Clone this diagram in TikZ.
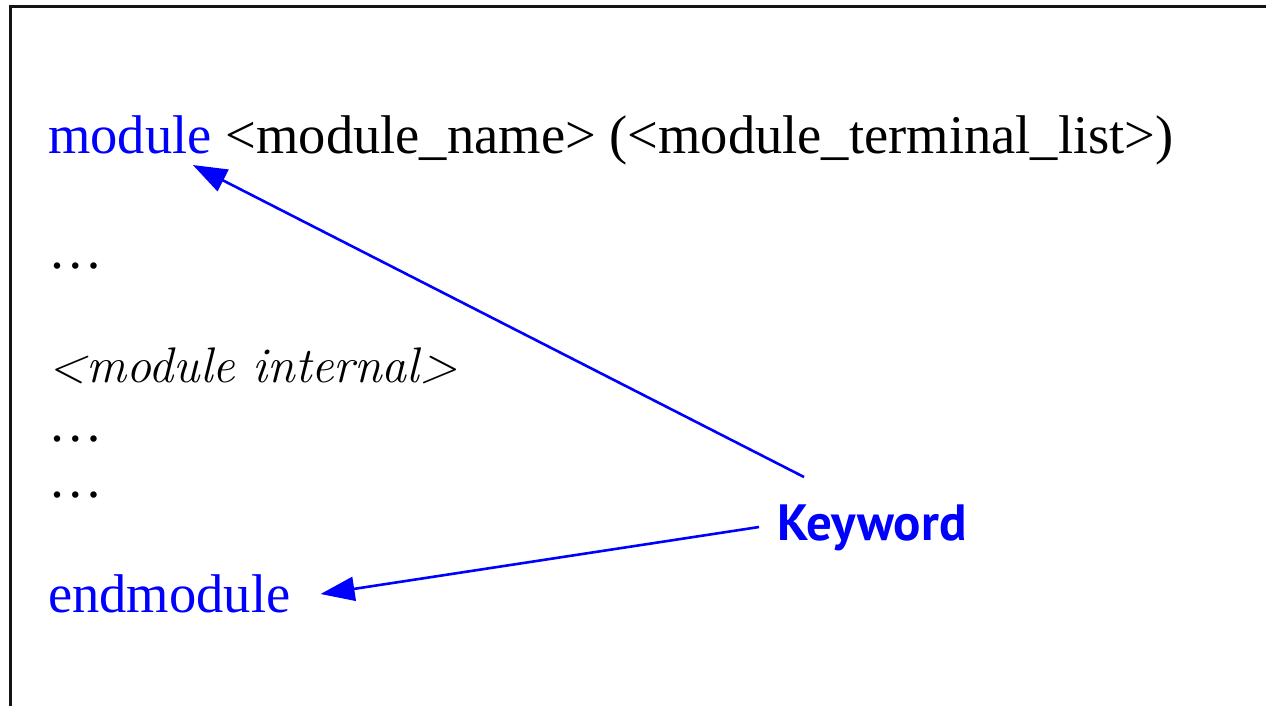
\documentclass[tikz,border=0pt]{standalone}
\usepackage{fontspec}
\setmainfont{Liberation Serif}
\newfontfamily\kwfont{PT Sans}
\usetikzlibrary{arrows.meta}
\definecolor{kwblue}{RGB}{0,0,255}
\definecolor{framegray}{RGB}{20,20,20}
\begin{document}
\begin{tikzpicture}[x=1pt,y=-1pt,
  txt/.style={anchor=base west,inner sep=0pt,font=\fontsize{54.5}{60}\selectfont},
  kwtxt/.style={txt,text=kwblue},
  ittxt/.style={anchor=base west,inner sep=0pt,font=\fontfamily{lmr}\fontsize{50}{56}\selectfont\itshape},
  labeltxt/.style={anchor=base west,inner sep=0pt,text=kwblue,font=\kwfont\bfseries\fontsize{51}{56}\selectfont},
  arr/.style={draw=kwblue,line width=2.6pt,-{Triangle[length=34pt,width=24pt]}},
  frame/.style={draw=framegray,line width=3pt}]
\useasboundingbox (0,0) rectangle (1266,705);
\fill[white] (0,0) rectangle (1266,705);
\clip (0,0) rectangle (1266,705);
\draw[frame] (10,740) -- (10,6) -- (1300,6);
% code lines
\node[kwtxt] (mod) at (48,153) {module};
\node[txt] (hdr) at (mod.base east) {\ <module\_name> (<module\_terminal\_list>)};
\node[txt] (dotsA) at (48,268) {…};
\node[ittxt] (internal) at (48,382) {<module internal>};
\node[txt] (dotsB) at (48,441) {…};
\node[txt] (dotsC) at (48,497) {…};
\node[kwtxt] (endmod) at (48,612) {endmodule};
% label
\node[labeltxt] (kw) at (777,540) {Keyword};
% connector ends
\coordinate (kwA) at (804,477);
\coordinate (kwB) at (759,527);
\coordinate (modTip) at ([shift={(-19,12)}]mod.base east);
\coordinate (endTip) at ([shift={(30,-18)}]endmod.base east);
\draw[arr] (kwA) -- (modTip);
\draw[arr] (kwB) -- (endTip);
\end{tikzpicture}
\end{document}
